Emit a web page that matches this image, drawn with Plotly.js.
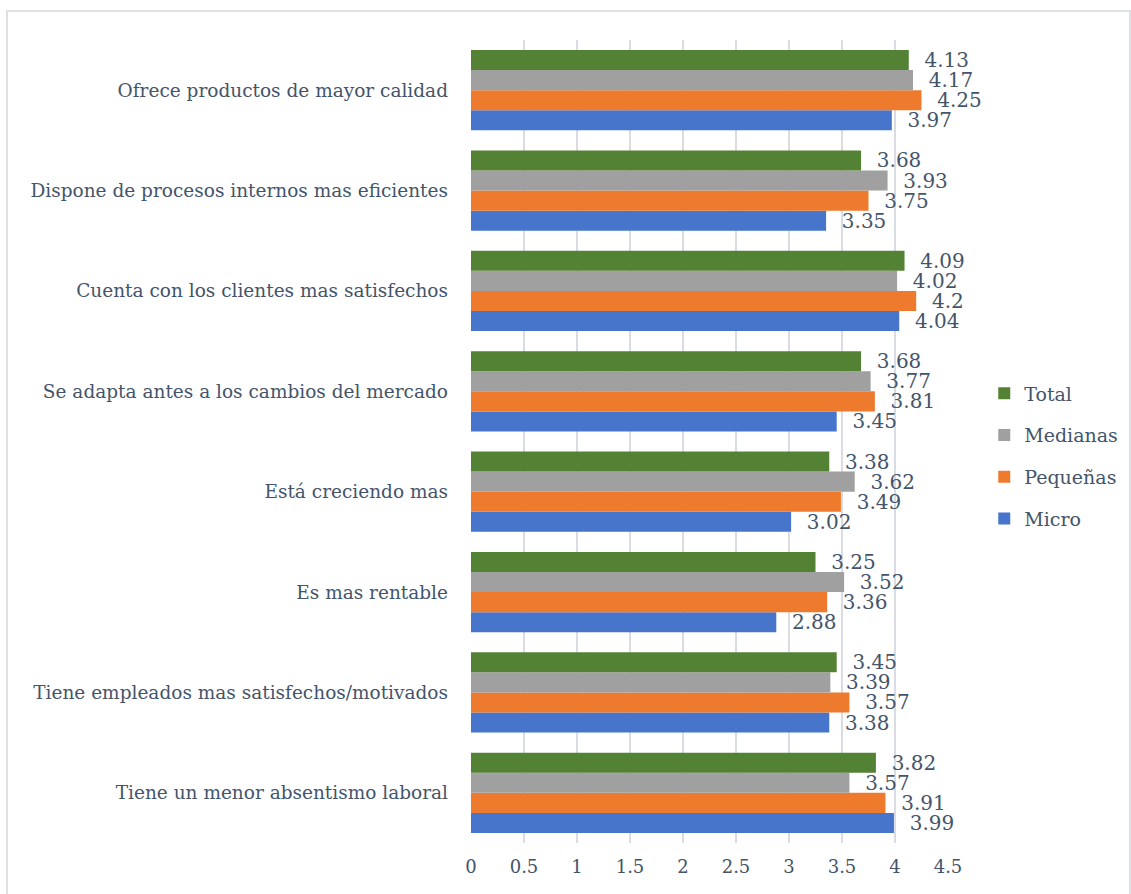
<!DOCTYPE html>
<html>
<head>
<meta charset="utf-8">
<script src="https://cdn.plot.ly/plotly-3.0.1.min.js"></script>
<style>
html,body{margin:0;padding:0;background:#fff;}
#chart{width:1131px;height:894px;}
</style>
</head>
<body>
<div id="chart"></div>
<script>
// Categories, top to bottom as read in the chart
var categories = [
  "Ofrece productos de mayor calidad",
  "Dispone de procesos internos mas eficientes",
  "Cuenta con los clientes mas satisfechos",
  "Se adapta antes a los cambios del mercado",
  "Está creciendo mas",
  "Es mas rentable",
  "Tiene empleados mas satisfechos/motivados",
  "Tiene un menor absentismo laboral"
];
var micro    = [3.97, 3.35, 4.04, 3.45, 3.02, 2.88, 3.38, 3.99];
var pequenas = [4.25, 3.75, 4.2, 3.81, 3.49, 3.36, 3.57, 3.91];
var medianas = [4.17, 3.93, 4.02, 3.77, 3.62, 3.52, 3.39, 3.57];
var total    = [4.13, 3.68, 4.09, 3.68, 3.38, 3.25, 3.45, 3.82];
var seriesNames = ["Micro", "Pequeñas", "Medianas", "Total"];
var xTicks = [0, 0.5, 1, 1.5, 2, 2.5, 3, 3.5, 4, 4.5];

var colors = ["#4675cb", "#ee7a2e", "#a0a0a0", "#548235"];
var textColor = "#44546a";
var font = "DejaVu Serif";

var seriesValues = [micro, pequenas, medianas, total];
var traces = seriesValues.map(function (vals, i) {
  return {
    type: "bar",
    orientation: "h",
    name: seriesNames[i],
    legendgroup: "g" + i,
    legendrank: 4 - i,
    y: categories.slice().reverse(),
    x: vals.slice().reverse(),
    text: vals.slice().reverse().map(function (v) { return "  " + String(v); }),
    textposition: "outside",
    constraintext: "none",
    cliponaxis: false,
    textfont: {family: font, size: 20, color: textColor},
    marker: {color: colors[i], line: {width: 0}},
    hoverinfo: "x+name"
  };
});

var layout = {
  width: 1131,
  height: 894,
  margin: {l: 471, r: 183, t: 40, b: 51, pad: 0, autoexpand: false},
  paper_bgcolor: "#ffffff",
  plot_bgcolor: "#ffffff",
  barmode: "group",
  bargap: 0.2,
  bargroupgap: 0,
  font: {family: font, size: 19, color: textColor},
  showlegend: true,
  legend: {
    traceorder: "grouped",
    x: 1.076, xanchor: "left",
    y: 0.482, yanchor: "middle",
    font: {family: font, size: 19, color: textColor},
    tracegroupgap: 14,
    itemwidth: 30,
    bgcolor: "rgba(0,0,0,0)"
  },
  xaxis: {
    range: [0, 4.5],
    tickvals: xTicks,
    ticktext: xTicks.map(String),
    showgrid: true,
    gridcolor: "#d9dde3",
    gridwidth: 1.5,
    zeroline: false,
    showline: false,
    ticks: "",
    automargin: false,
    ticklabelstandoff: 11,
    tickfont: {family: font, size: 18, color: textColor},
    fixedrange: true
  },
  yaxis: {
    type: "category",
    range: [-0.5, 7.5],
    showgrid: false,
    zeroline: false,
    showline: false,
    ticks: "",
    automargin: false,
    ticklabelstandoff: 22,
    tickfont: {family: font, size: 18.5, color: textColor},
    fixedrange: true
  },
  shapes: [{
    type: "rect", xref: "paper", yref: "paper",
    x0: (7 - 471) / 477, x1: (1130 - 471) / 477,
    y0: (843 - 900) / 803, y1: (843 - 11) / 803,
    line: {color: "#dde1e6", width: 2},
    fillcolor: "rgba(0,0,0,0)",
    layer: "below"
  }]
};

Plotly.newPlot("chart", traces, layout, {displayModeBar: false});
</script>
</body>
</html>
